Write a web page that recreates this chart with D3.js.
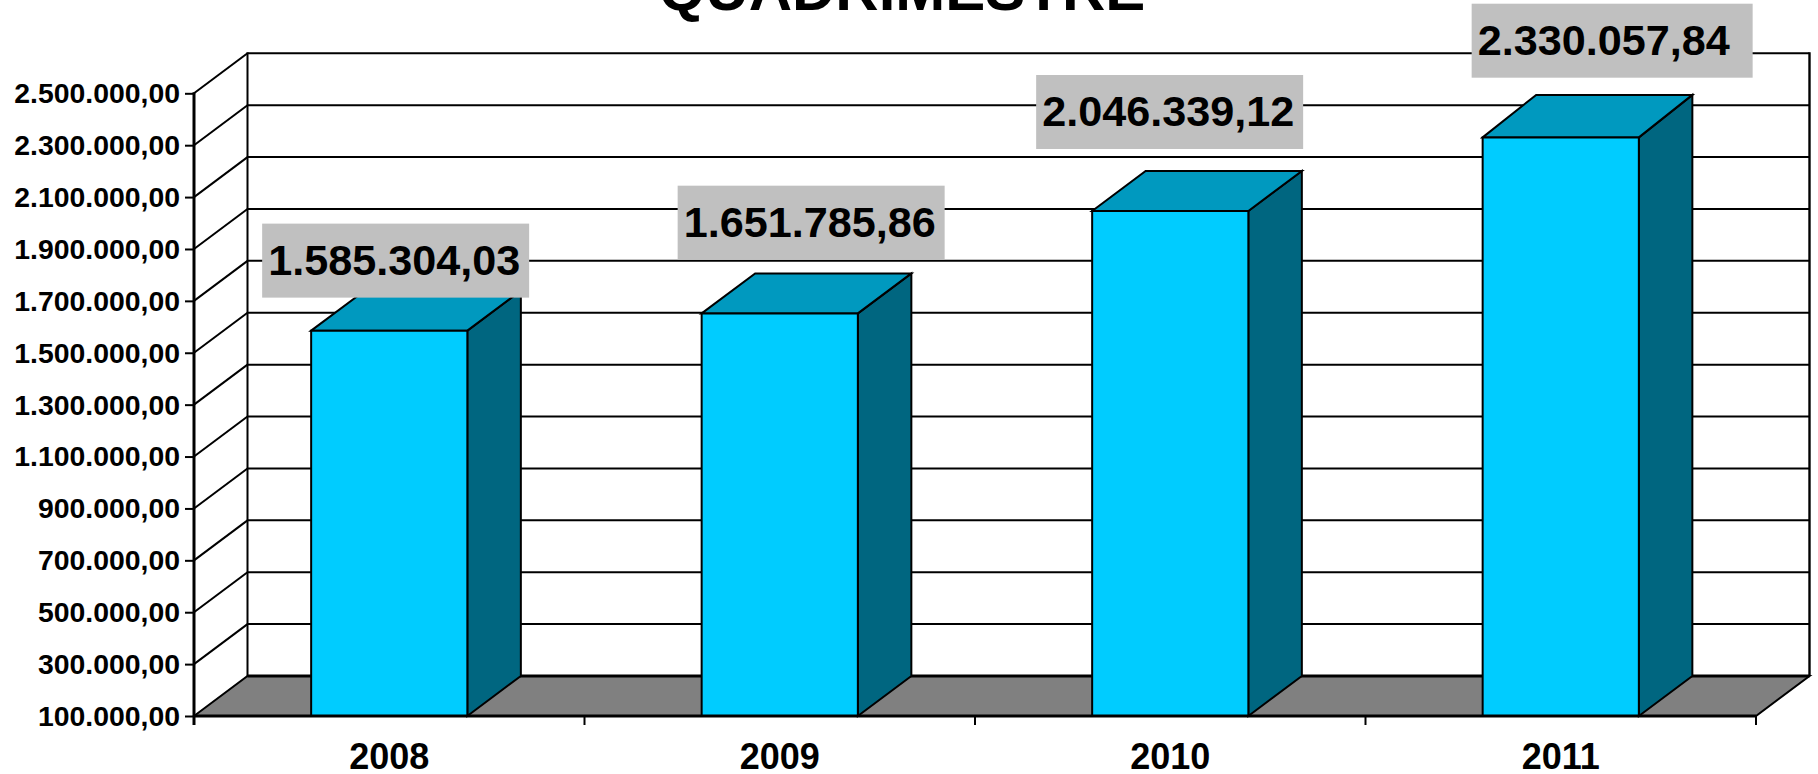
<!DOCTYPE html>
<html>
<head>
<meta charset="utf-8">
<script src="https://cdnjs.cloudflare.com/ajax/libs/d3/7.8.5/d3.min.js"></script>
<style>
html,body{margin:0;padding:0;background:#fff;overflow:hidden}
svg{display:block}
text{font-family:"Liberation Sans",Arial,sans-serif;font-weight:bold;fill:#000}
</style>
</head>
<body>
<svg id="c" width="1818" height="774"></svg>
<script>
const title = "QUADRIMESTRE";
const categories = ["2008", "2009", "2010", "2011"];
const values = [1585304.03, 1651785.86, 2046339.12, 2330057.84];
const valueLabels = ["1.585.304,03", "1.651.785,86", "2.046.339,12", "2.330.057,84"];
const tickValues = [100000, 300000, 500000, 700000, 900000, 1100000, 1300000, 1500000, 1700000, 1900000, 2100000, 2300000, 2500000];

// layout
const L = 194, R = 1756, T = 93.3, B = 716, DX = 53.5, DY = 40;
const colors = {front:"#00CCFF", top:"#0099BF", side:"#006680", floor:"#808080", label:"#C0C0C0"};
// label box offsets: left edge relative to the bar, gap between box and bar top, box width
const labelLayout = [
  {dx:-49, gap:33, w:267, depth:40},
  {dx:-24, gap:53.7, w:267, depth:40},
  {dx:-56, gap:62, w:267, depth:40},
  {dx:-11, gap:59.7, w:281, depth:42.5}
];

const fmt = d3.formatLocale({decimal:",", thousands:".", grouping:[3], currency:["",""]}).format(",.2f");
const svg = d3.select("#c");
const y = d3.scaleLinear().domain([100000, 2500000]).range([B, T]);
const x = d3.scaleBand().domain(categories).range([L, R]).paddingInner(0.6).paddingOuter(0.3);
const step = x.step();
const line = (x1,y1,x2,y2,w) => svg.append("line").attr("x1",x1).attr("y1",y1).attr("x2",x2).attr("y2",y2)
  .attr("stroke","#000").attr("stroke-width",w);

// floor
svg.append("polygon")
  .attr("points",[[L,B],[L+DX,B-DY],[R+DX,B-DY],[R,B]].join(" "))
  .attr("fill",colors.floor).attr("stroke","#000").attr("stroke-width",2);

// walls: grid lines on back wall and left wall
svg.append("g").selectAll("g").data(tickValues.slice(1)).join("g").each(function(d){
  const g = d3.select(this), yy = y(d);
  g.append("line").attr("x1",L+DX).attr("x2",R+DX).attr("y1",yy-DY).attr("y2",yy-DY)
    .attr("stroke","#000").attr("stroke-width",2);
  g.append("line").attr("x1",L).attr("x2",L+DX).attr("y1",yy).attr("y2",yy-DY)
    .attr("stroke","#000").attr("stroke-width",2);
});
line(L+DX,T-DY-1,L+DX,B-DY,2);
line(R+DX,T-DY-1,R+DX,B-DY,2.4);
line(L+DX,B-DY,R+DX,B-DY,3);

// bars
const bars = svg.append("g").selectAll("g").data(categories).join("g");
const bw = x.bandwidth();
bars.each(function(c,i){
  const g = d3.select(this), x0 = x(c), x1 = x0+bw, yt = y(values[i]), dp = labelLayout[i].depth;
  const st = {stroke:"#000","stroke-width":2,"stroke-linejoin":"miter"};
  const poly = (pts,f)=>{const p=g.append("polygon").attr("points",pts.join(" ")).attr("fill",f);
    for(const k in st)p.attr(k,st[k]);};
  poly([[x1,B],[x1+DX,B-DY],[x1+DX,yt-dp],[x1,yt]],colors.side);
  poly([[x0,yt],[x0+DX,yt-dp],[x1+DX,yt-dp],[x1,yt]],colors.top);
  poly([[x0,yt],[x1,yt],[x1,B],[x0,B]],colors.front);
});

// axes
const yAxis = d3.axisLeft(y).tickValues(tickValues).tickSize(9).tickPadding(5).tickFormat(fmt);
const ga = svg.append("g").attr("transform",`translate(${L},0)`).call(yAxis);
ga.select(".domain").remove();
ga.selectAll("line").attr("stroke","#000").attr("stroke-width",2);
ga.selectAll("text").style("font-size","28.4px").attr("dy","0.33em");
line(L,T-1,L,B+9,3);

const xAxis = d3.axisBottom(x).tickSize(0).tickPadding(36);
const gx = svg.append("g").attr("transform",`translate(0,${B})`).call(xAxis);
gx.select(".domain").remove();
gx.selectAll("text").style("font-size","36px").attr("dy",0).attr("y",52.5);
line(L,B,R,B,3);
d3.range(categories.length+1).forEach(i=>line(L+i*step,B,L+i*step,B+9,2));

// value labels
const lab = svg.append("g").selectAll("g").data(categories).join("g");
lab.each(function(c,i){
  const g = d3.select(this), l = labelLayout[i];
  const bx = x(c)+l.dx, by = y(values[i])-l.gap-74;
  g.append("rect").attr("x",bx).attr("y",by).attr("width",l.w).attr("height",74).attr("fill",colors.label);
  g.append("text").attr("x",bx+6).attr("y",by+51).style("font-size","43.2px").text(valueLabels[i]);
});

// title (cut off by the top edge)
svg.append("text").attr("x",902).attr("y",9.5).attr("text-anchor","middle").style("font-size","60px").text(title);
</script>
</body>
</html>
